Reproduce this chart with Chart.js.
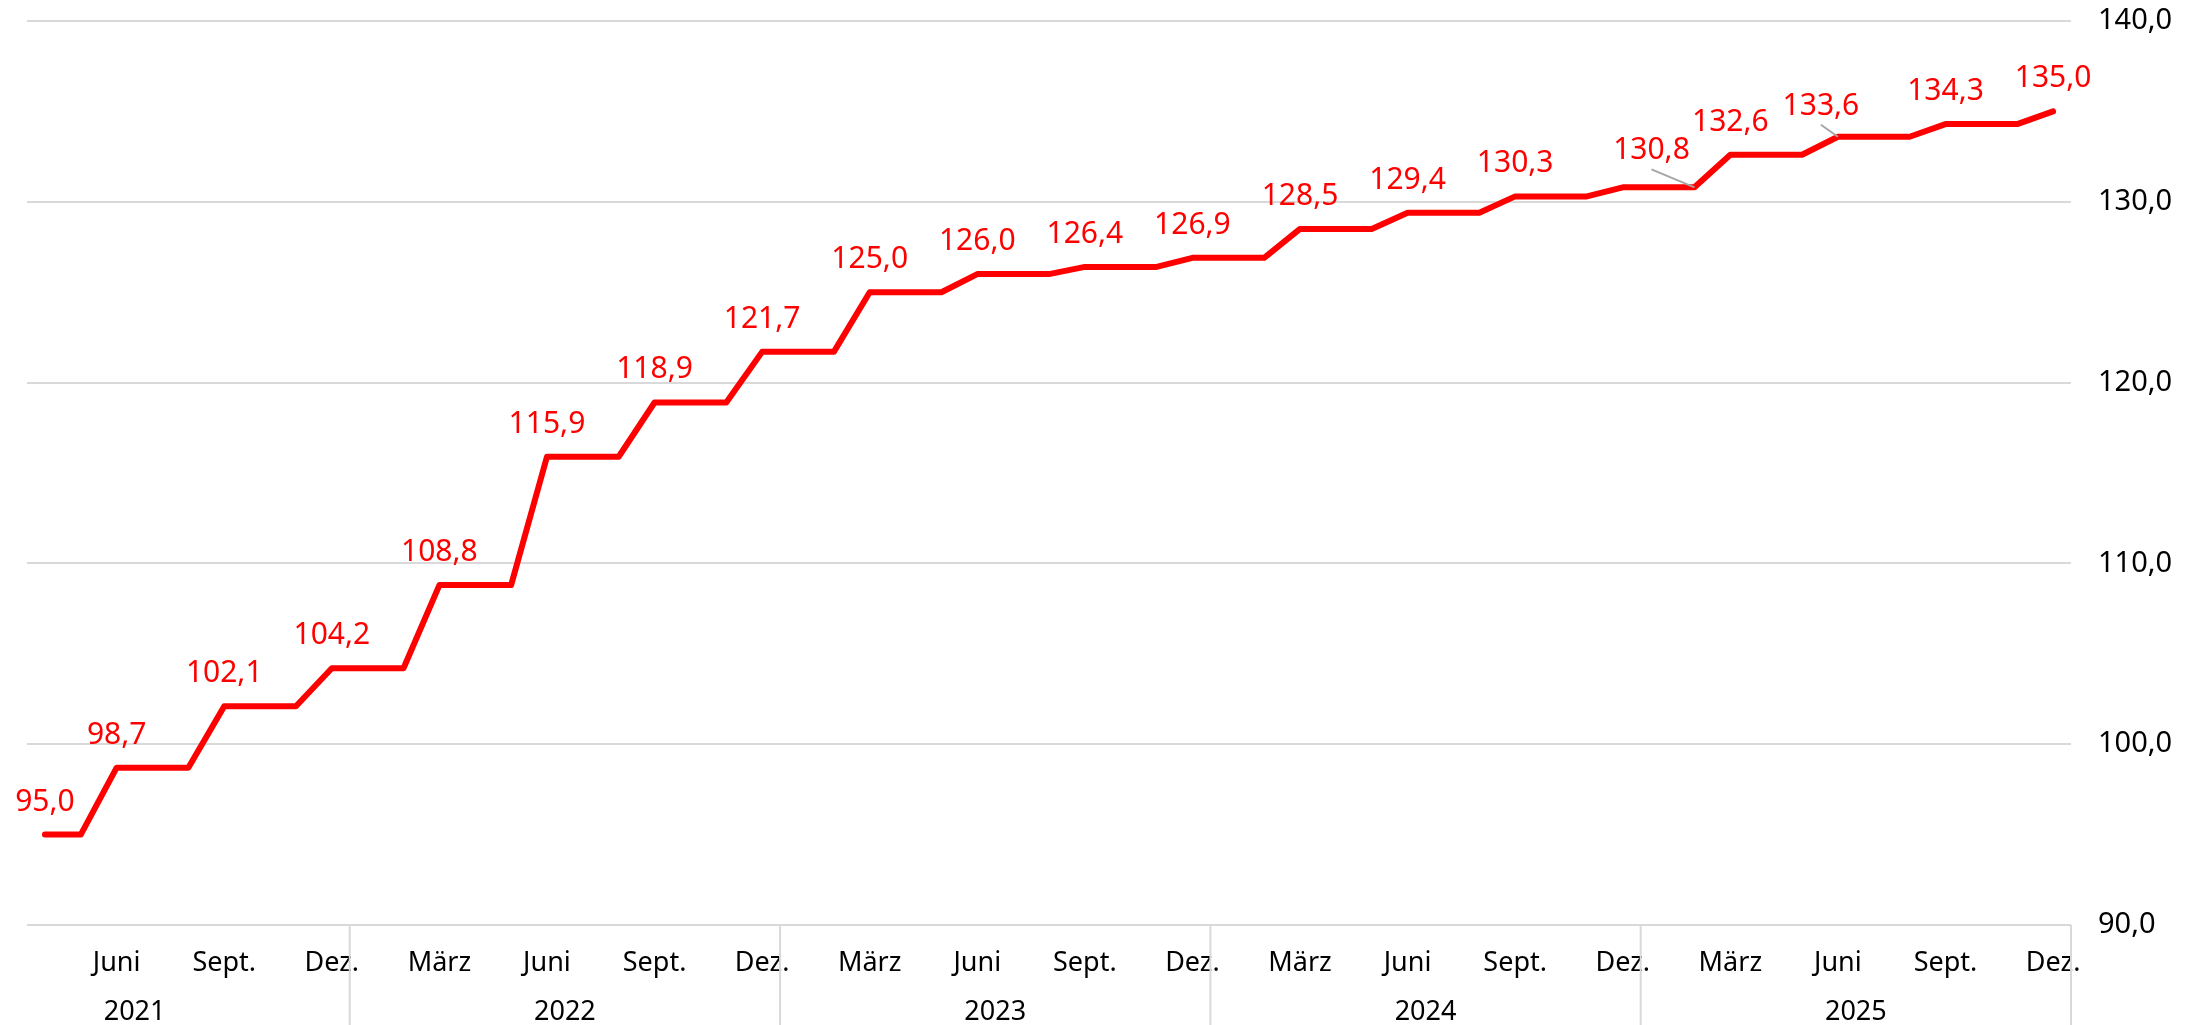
<!DOCTYPE html>
<html>
<head>
<meta charset="utf-8">
<script src="https://cdn.jsdelivr.net/npm/chart.js@4.4.1/dist/chart.umd.min.js"></script>
<style>
  html, body { margin: 0; padding: 0; background: #fff; }
  canvas { display: block; }
</style>
</head>
<body>
<canvas id="myChart" width="2205" height="1025"></canvas>
<script>
// months shown on the axis
const monthNames = ["Jan.", "Feb.", "März", "April", "Mai", "Juni", "Juli", "Aug.", "Sept.", "Okt.", "Nov.", "Dez."];
const tickMonths = ["März", "Juni", "Sept.", "Dez."];
const years = [2021, 2022, 2023, 2024, 2025];
const firstMonth = 3; // April 2021

// index value, monthly, April 2021 - Dezember 2025
const values = [
    95.0, 95.0,
    98.7, 98.7, 98.7,
    102.1, 102.1, 102.1,
    104.2, 104.2, 104.2,
    108.8, 108.8, 108.8,
    115.9, 115.9, 115.9,
    118.9, 118.9, 118.9,
    121.7, 121.7, 121.7,
    125.0, 125.0, 125.0,
    126.0, 126.0, 126.0,
    126.4, 126.4, 126.4,
    126.9, 126.9, 126.9,
    128.5, 128.5, 128.5,
    129.4, 129.4, 129.4,
    130.3, 130.3, 130.3,
    130.8, 130.8, 130.8,
    132.6, 132.6, 132.6,
    133.6, 133.6, 133.6,
    134.3, 134.3, 134.3,
    135.0,
];

const yTicks = [90, 100, 110, 120, 130, 140];

// category labels and year of each month
const categories = [];
const catYears = [];
years.forEach((yr, k) => {
    const start = k === 0 ? firstMonth : 0;
    for (let m = start; m < 12; m++) {
        categories.push(monthNames[m]);
        catYears.push(yr);
    }
});

const fmt = (v) => v.toFixed(1).replace(".", ",");

// labels that were moved away from their step in the original
const labelShift = {
    44: { at: 46, dx: -43, dy: -39, leader: 21 },
    50: { dx: -17, dy: -33, leader: 21 },
};

const stepLabels = {
    id: "stepLabels",
    afterDatasetsDraw(chart) {
        const { ctx, scales: { x, y } } = chart;
        ctx.save();
        ctx.font = '30px "Noto Sans"';
        ctx.textAlign = "center";
        ctx.textBaseline = "alphabetic";
        values.forEach((v, i) => {
            if (i > 0 && v === values[i - 1]) return;
            const s = labelShift[i] || {};
            const at = s.at !== undefined ? s.at : i;
            const px = x.getPixelForValue(at);
            const py = y.getPixelForValue(values[at]);
            const cx = px + (s.dx || 0);
            const cy = py + (s.dy !== undefined ? s.dy : -35);
            if (s.leader) {
                ctx.strokeStyle = "#a6a6a6";
                ctx.lineWidth = 2;
                ctx.beginPath();
                ctx.moveTo(cx, cy + s.leader);
                ctx.lineTo(px, py);
                ctx.stroke();
            }
            ctx.fillStyle = "#ff0000";
            ctx.fillText(fmt(v), cx, cy + 11);
        });
        ctx.restore();
    },
};

const yearAxis = {
    id: "yearAxis",
    afterDraw(chart) {
        const { ctx, chartArea, scales: { x } } = chart;
        const step = x.getPixelForValue(1) - x.getPixelForValue(0);
        ctx.save();
        ctx.strokeStyle = "#d9d9d9";
        ctx.lineWidth = 2;
        ctx.fillStyle = "#000";
        ctx.font = '27px "Noto Sans"';
        ctx.textAlign = "center";
        ctx.textBaseline = "middle";
        years.forEach((yr) => {
            const idx = catYears.indexOf(yr);
            const last = catYears.lastIndexOf(yr);
            const juni = idx + (categories.slice(idx).indexOf("Juni"));
            // separator after December
            const sepX = x.getPixelForValue(last) + step / 2;
            ctx.beginPath();
            ctx.moveTo(sepX, chartArea.bottom);
            ctx.lineTo(sepX, chart.height);
            ctx.stroke();
            // label centred on the full calendar year
            ctx.fillText(String(yr), x.getPixelForValue(juni) + step / 2, 1012);
        });
        ctx.restore();
    },
};

new Chart(document.getElementById("myChart"), {
    type: "line",
    data: {
        labels: categories,
        datasets: [
            {
                data: values,
                borderColor: "#ff0000",
                borderWidth: 6,
                borderCapStyle: "round",
                borderJoinStyle: "round",
                pointRadius: 0,
                tension: 0,
                fill: false,
            },
        ],
    },
    options: {
        responsive: false,
        animation: false,
        layout: {
            padding: { left: 27, top: 21, right: 0, bottom: 0 },
        },
        plugins: {
            legend: { display: false },
            tooltip: { enabled: false },
        },
        scales: {
            x: {
                offset: true,
                grid: { display: false },
                border: { display: false },
                ticks: {
                    autoSkip: false,
                    maxRotation: 0,
                    padding: 14,
                    color: "#000",
                    font: { family: "Noto Sans", size: 27 },
                    callback: function (val) {
                        const lab = this.getLabelForValue(val);
                        return tickMonths.includes(lab) ? lab : "";
                    },
                },
                afterFit: (scale) => {
                    scale.height = 100;
                    scale.paddingLeft = 0;
                    scale.paddingRight = 0;
                },
            },
            y: {
                position: "right",
                min: 90,
                max: 140,
                afterBuildTicks: (scale) => {
                    scale.ticks = yTicks.map((v) => ({ value: v }));
                },
                grid: {
                    color: "#d9d9d9",
                    lineWidth: 2,
                    drawTicks: false,
                },
                border: { display: false },
                ticks: {
                    padding: 27,
                    color: "#000",
                    font: { family: "Noto Sans", size: 29 },
                    callback: (v) => fmt(v),
                },
                afterFit: (scale) => {
                    scale.width = 134;
                    scale.paddingTop = 0;
                    scale.paddingBottom = 0;
                },
            },
        },
    },
    plugins: [stepLabels, yearAxis],
});
</script>
</body>
</html>
